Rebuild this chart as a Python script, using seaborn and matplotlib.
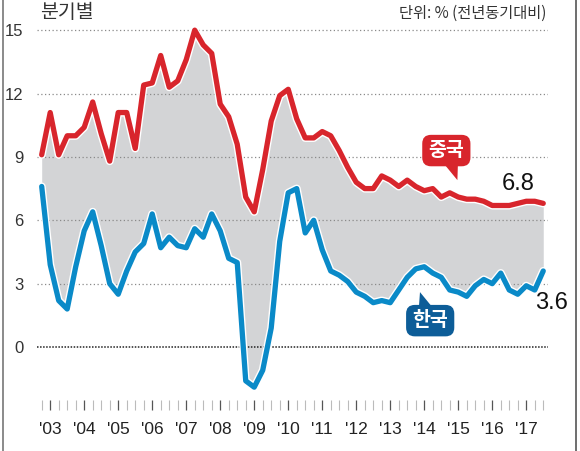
import numpy as np
import pandas as pd
import seaborn as sns
import matplotlib.pyplot as plt
import matplotlib.patheffects as pe
from matplotlib.lines import Line2D

# 분기별 GDP 성장률 (전년동기대비, %) - 2002 4분기 ~ 2017 3분기
quarters = list(range(60))
china = [9.1, 11.1, 9.1, 10.0, 10.0, 10.4, 11.6, 10.1, 8.8, 11.1,
         11.1, 9.4, 12.4, 12.5, 13.8, 12.3, 12.6, 13.6, 15.0, 14.3,
         13.9, 11.5, 10.9, 9.6, 7.1, 6.4, 8.4, 10.7, 11.9, 12.2,
         10.8, 9.9, 9.9, 10.2, 10.0, 9.3, 8.5, 7.8, 7.5, 7.5,
         8.1, 7.9, 7.6, 7.9, 7.6, 7.4, 7.5, 7.1, 7.3, 7.1,
         7.0, 7.0, 6.9, 6.7, 6.7, 6.7, 6.8, 6.9, 6.9, 6.8]
korea = [7.6, 3.9, 2.2, 1.8, 3.8, 5.5, 6.4, 4.8, 3.0, 2.5,
         3.6, 4.5, 4.9, 6.3, 4.7, 5.2, 4.8, 4.7, 5.6, 5.2,
         6.3, 5.5, 4.2, 4.0, -1.6, -1.9, -1.1, 0.9, 5.0, 7.3,
         7.5, 5.4, 6.0, 4.6, 3.6, 3.4, 3.1, 2.6, 2.4, 2.1,
         2.2, 2.1, 2.7, 3.3, 3.7, 3.8, 3.5, 3.3, 2.7, 2.6,
         2.4, 2.9, 3.2, 3.0, 3.5, 2.7, 2.5, 2.9, 2.7, 3.6]
year_labels = ["'03", "'04", "'05", "'06", "'07", "'08", "'09", "'10",
               "'11", "'12", "'13", "'14", "'15", "'16", "'17"]
y_ticks = [0, 3, 6, 9, 12, 15]

df = pd.DataFrame({'q': quarters, '중국': china, '한국': korea})

red = '#d8252c'
blue = '#0a8ac8'
blue_box = '#0d5d98'
gray_fill = '#d3d4d6'

sns.set_style('white')
plt.rcParams['font.family'] = ['Liberation Sans Narrow', 'Liberation Sans',
                               'Noto Sans CJK KR', 'DejaVu Sans']

fig = plt.figure(figsize=(5.8, 4.51), dpi=100)
ax = fig.add_axes([37.45 / 580, 41 / 451, 510.9 / 580, 390 / 451])

#채우기
ax.fill_between(df['q'], df['중국'], df['한국'], color=gray_fill, lw=0, zorder=1)

#격자선
for t in y_ticks[1:]:
    ax.axhline(t, color='#8a8a8a', lw=0.9, ls=(0, (1, 2)), zorder=2)
ax.axhline(0, color='#222222', lw=1.1, ls=(0, (1, 1)), zorder=2)

#선
outline = [pe.Stroke(linewidth=5.8, foreground='white'), pe.Normal()]
sns.lineplot(data=df, x='q', y='중국', color=red, lw=3.8, ax=ax, zorder=4,
             path_effects=outline)
sns.lineplot(data=df, x='q', y='한국', color=blue, lw=3.8, ax=ax, zorder=4,
             path_effects=outline)

ax.set_xlim(-0.5, 59.6)
ax.set_ylim(-2.98, 15.48)
sns.despine(ax=ax, left=True, bottom=True)
ax.set_xlabel('')
ax.set_ylabel('')

ax.set_yticks(y_ticks)
ax.set_yticklabels([str(t) for t in y_ticks], fontsize=12, color='#333333')
ax.tick_params(axis='y', length=0, pad=10)

year_pos = [1 + 4 * k for k in range(len(year_labels))]
ax.set_xticks(year_pos)
ax.set_xticklabels(year_labels, fontsize=12.5, color='#222222')
ax.set_xticks(quarters, minor=True)
ax.tick_params(axis='x', which='major', direction='in', length=7, width=0.9,
               color='#555555', pad=9, bottom=True)
ax.tick_params(axis='x', which='minor', direction='in', length=7, width=0.8,
               color='#bbbbbb', bottom=True)

#말풍선
box_kw = dict(fontsize=14, fontweight='bold', color='white', ha='center',
              va='center', family=['Noto Sans CJK KR'], zorder=6)
ax.annotate('중국', xy=(48.9, 7.9), xytext=(47.6, 9.3),
            bbox=dict(boxstyle='round,pad=0.32,rounding_size=0.45', fc=red, ec='none'),
            arrowprops=dict(arrowstyle='wedge,tail_width=0.9,shrink_factor=0.5',
                            fc=red, ec='none', shrinkA=0, shrinkB=0,
                            patchA=None, relpos=(0.6, 0.1)),
            **box_kw)
ax.annotate('한국', xy=(44.5, 2.6), xytext=(45.7, 1.25),
            bbox=dict(boxstyle='round,pad=0.32,rounding_size=0.45', fc=blue_box, ec='none'),
            arrowprops=dict(arrowstyle='wedge,tail_width=0.9,shrink_factor=0.5',
                            fc=blue_box, ec='none', shrinkA=0, shrinkB=0,
                            patchA=None, relpos=(0.4, 0.9)),
            **box_kw)

ax.text(56.0, 7.7, f'{china[-1]}', fontsize=17, ha='center', va='center', color='#111111')
ax.text(60.0, 2.1, f'{korea[-1]}', fontsize=17, ha='center', va='center',
        color='#111111', clip_on=False)

#제목
fig.text(40 / 580, 1 - 13 / 451, '분기별', fontsize=14, color='#333333',
         family=['Noto Sans CJK KR'], ha='left', va='center')
fig.text(546 / 580, 1 - 13 / 451, '단위: % (전년동기대비)', fontsize=11, color='#333333',
         family=['Noto Sans CJK KR'], ha='right', va='center')

#테두리
fig.add_artist(Line2D([3 / 580, 3 / 580], [0, 1], color='#777777', lw=1.2,
                      transform=fig.transFigure))
fig.add_artist(Line2D([575.5 / 580, 575.5 / 580], [0, 1], color='#555555', lw=1.2,
                      transform=fig.transFigure))

fig.savefig('out.png', dpi=100)
